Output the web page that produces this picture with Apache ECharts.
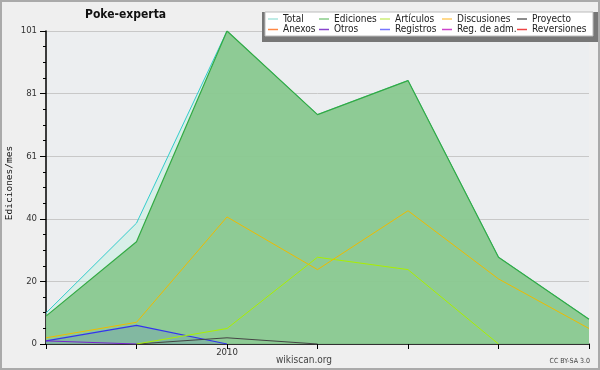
<!DOCTYPE html>
<html><head><meta charset="utf-8">
<script src="https://cdn.jsdelivr.net/npm/echarts@6/dist/echarts.min.js"></script>
<style>html,body{margin:0;padding:0;background:#efefef}#c{width:600px;height:370px}</style>
</head><body><div id="c"></div>
<script>
var months = ['2009-11','2009-12','2010-01','2010-02','2010-03','2010-04','2010-05'];
var total = [10, 39, 101, 74, 85, 28, 8];
var ediciones = [9, 33, 101, 74, 85, 28, 8];
var articulos = [null, 0, 5, 28, 24, 0, null];
var discusiones = [2, 7, 41, 24, 43, 21, 5];
var proyecto = [null, 0, 2, 0, null, null, null];
var registros = [1, 6, 0, null, null, null, null];
var otros = [1, 0, null, null, null, null, null];
var anexos = [];
var regAdm = [];
var reversiones = [];
var yMax = 101;

var FONT = 'DejaVu Sans Condensed';
var chart = echarts.init(document.getElementById('c'));

function line(name, data, color, width, area, z) {
  var s = {name: name, type: 'line', data: data, symbol: 'none', silent: true,
    lineStyle: {color: color, width: width}, itemStyle: {color: color}, z: z || 2};
  if (area) s.areaStyle = {color: area, opacity: 1};
  return s;
}
function leg(left, names, colors) {
  return {orient: 'vertical', left: left, top: 14, padding: 0, itemGap: 0.5,
    itemWidth: 10, itemHeight: 1.5, icon: 'rect', selectedMode: false,
    textStyle: {fontFamily: FONT, fontSize: 10, color: '#222', lineHeight: 10},
    data: names.map(function (n, i) { return {name: n, itemStyle: {color: colors[i]}, lineStyle: {color: colors[i]}}; })};
}

chart.setOption({
  backgroundColor: '#efefef',
  animation: false,
  title: {text: 'Poke-experta', left: 85, top: 9, padding: 0,
    textStyle: {fontFamily: FONT, fontWeight: 'bold', fontSize: 12, color: '#111'}},
  graphic: [
    {type: 'rect', shape: {x: 1, y: 1, width: 598, height: 368}, style: {fill: 'none', stroke: '#aaa', lineWidth: 2}, z: 100},
    {type: 'rect', shape: {x: 262, y: 12, width: 336, height: 30}, style: {fill: '#777'}, z: 1},
    {type: 'rect', shape: {x: 265, y: 12, width: 328, height: 24}, style: {fill: '#fff', stroke: '#bbb', lineWidth: 1}, z: 2},
    {type: 'text', x: 10, y: 183, rotation: Math.PI / 2,
      style: {text: 'Ediciones/mes', fontFamily: 'DejaVu Sans Mono', fontSize: 9.5, fill: '#111', align: 'center', verticalAlign: 'middle'}},
    {type: 'text', left: 276, top: 355, style: {text: 'wikiscan.org', fontFamily: FONT, fontSize: 10, fill: '#444'}},
    {type: 'text', right: 10, top: 358, style: {text: 'CC BY-SA 3.0', fontFamily: FONT, fontSize: 7, fill: '#444'}}
  ],
  legend: [
    leg(268, ['Total', 'Anexos'], ['#a8e4dc', '#ff8844']),
    leg(319, ['Ediciones', 'Otros'], ['#88cc88', '#8844cc']),
    leg(380, ['Artículos', 'Registros'], ['#ccee77', '#7777ff']),
    leg(442, ['Discusiones', 'Reg. de adm.'], ['#ffcc66', '#cc44cc']),
    leg(517, ['Proyecto', 'Reversiones'], ['#666666', '#ee4444'])
  ],
  grid: {left: 46, right: 11, top: 31, bottom: 26, show: true, backgroundColor: '#eceef0', borderWidth: 0,
    containLabel: false, outerBoundsMode: 'none'},
  xAxis: {type: 'category', data: months, boundaryGap: false,
    axisLine: {lineStyle: {color: '#000', width: 1.5}},
    axisTick: {show: true, length: 5, interval: 0, lineStyle: {color: '#000'}},
    axisLabel: {interval: 0, margin: 4, fontFamily: FONT, fontSize: 9.5, color: '#333',
      formatter: function (v) { return v.slice(5) === '01' ? v.slice(0, 4) : ''; }},
    splitLine: {show: false}},
  yAxis: {type: 'value', min: 0, max: yMax, interval: yMax / 5,
    axisLine: {show: true, lineStyle: {color: '#000', width: 1.5}},
    axisTick: {show: true, length: 6, lineStyle: {color: '#000'}},
    minorTick: {show: true, splitNumber: 4, length: 3, lineStyle: {color: '#000'}},
    axisLabel: {margin: 9, fontFamily: FONT, fontSize: 9.5, color: '#333',
      formatter: function (v) { return String(Math.round(v)); }},
    splitLine: {show: true, lineStyle: {color: '#c8c8c8', width: 1}}},
  series: [
    line('Total', total, '#33cccc', 1, 'rgba(196,240,224,0.5)', 1),
    line('Ediciones', ediciones, '#33aa44', 1.2, 'rgba(134,198,140,0.9)', 2),
    line('Registros', registros, '#3333ee', 1.2, 'rgba(50,50,255,0.12)', 3),
    line('Otros', otros, '#7722cc', 1, null, 3),
    line('Proyecto', proyecto, '#444444', 1, null, 3),
    line('Artículos', articulos, '#aaee00', 1, null, 3),
    line('Discusiones', discusiones, '#eebb00', 1, null, 3),
    line('Anexos', anexos, '#ff8844', 1, null, 3),
    line('Reg. de adm.', regAdm, '#cc44cc', 1, null, 3),
    line('Reversiones', reversiones, '#ee4444', 1, null, 3)
  ]
});
</script></body></html>
